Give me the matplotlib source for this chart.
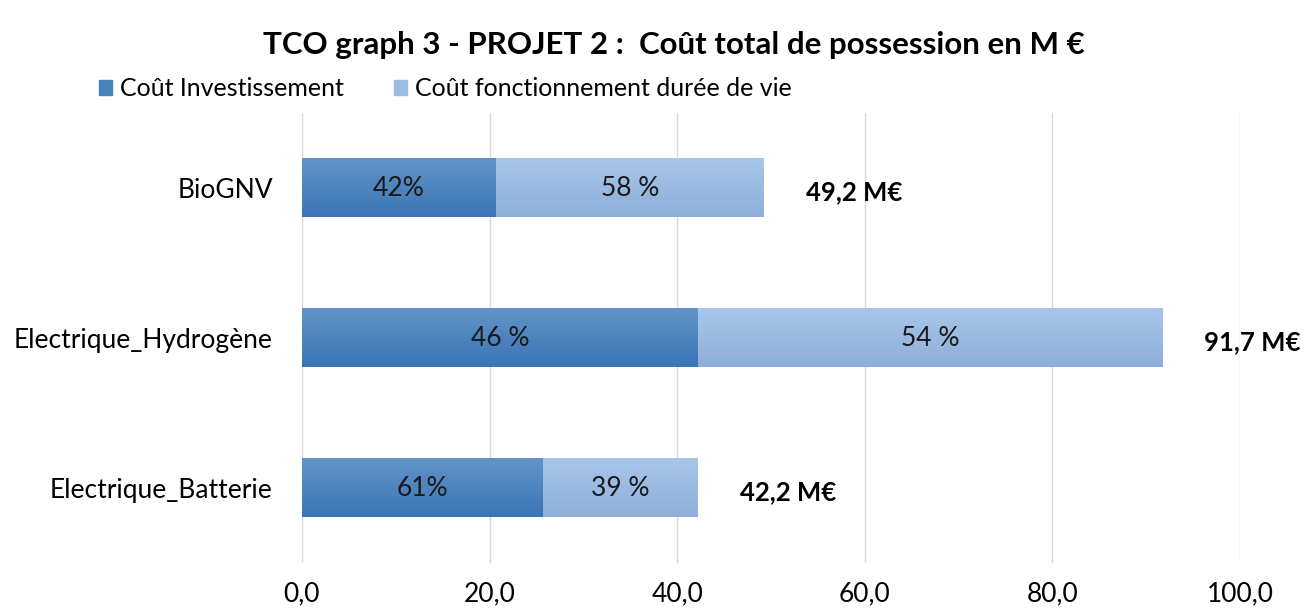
import matplotlib.pyplot as plt
import numpy as np
from matplotlib.colors import LinearSegmentedColormap

# données
categories = ['Electrique_Batterie', 'Electrique_Hydrogène', 'BioGNV']
invest = [25.7, 42.2, 20.7]
fonct = [16.5, 49.5, 28.5]
pct_invest = ['61%', '46 %', '42%']
pct_fonct = ['39 %', '54 %', '58 %']
totaux = ['42,2 M€', '91,7 M€', '49,2 M€']
ticks = [0, 20, 40, 60, 80, 100]

plt.rcParams['font.family'] = ['Lato', 'DejaVu Sans']

fig = plt.figure(figsize=(13.14, 6.11), dpi=100)
ax = fig.add_axes([302 / 1314, 1 - 563 / 611, 938 / 1314, 450 / 611])

y = np.arange(len(categories))
b1 = ax.barh(y, invest, height=0.39, color='#4a82c0', label='Coût Investissement', zorder=2)
b2 = ax.barh(y, fonct, left=invest, height=0.39, color='#9dbde4',
             label='Coût fonctionnement durée de vie', zorder=2)

# léger dégradé vertical façon Excel
cm1 = LinearSegmentedColormap.from_list('c1', ['#3a76b6', '#6393c8'])
cm2 = LinearSegmentedColormap.from_list('c2', ['#8dafd9', '#a9c6ea'])
grad = np.linspace(0, 1, 50).reshape(-1, 1)
for bars, cm in ((b1, cm1), (b2, cm2)):
    for p in bars:
        x0, y0, w, h = p.get_x(), p.get_y(), p.get_width(), p.get_height()
        ax.imshow(grad, extent=(x0, x0 + w, y0, y0 + h), origin='lower', cmap=cm,
                  aspect='auto', zorder=2.5, interpolation='bilinear')
        p.set_alpha(0)

for i in range(len(categories)):
    ax.text(invest[i] / 2, i, pct_invest[i], ha='center', va='center', fontsize=19, color='#1a1a1a', zorder=3)
    ax.text(invest[i] + fonct[i] / 2, i, pct_fonct[i], ha='center', va='center', fontsize=19, color='#1a1a1a', zorder=3)
    ax.text(invest[i] + fonct[i] + 4.5, i - 0.03, totaux[i], ha='left', va='center', fontsize=18.5,
            fontweight='bold', color='black', zorder=3)

ax.set_xlim(0, 100)
ax.set_ylim(-0.5, 2.5)
ax.set_xticks(ticks)
ax.set_xticklabels([f'{t:.1f}'.replace('.', ',') for t in ticks], fontsize=19)
ax.set_yticks(y)
ax.set_yticklabels(categories, fontsize=19)
ax.tick_params(length=0, pad=21, axis='y')
ax.tick_params(axis='x', length=0, pad=13)
ax.grid(axis='x', color='#d9d9d9', linewidth=1, zorder=0)
for s in ax.spines.values():
    s.set_visible(False)

fig.text(0.513, 0.926, 'TCO graph 3 - PROJET 2 :  Coût total de possession en M €',
         ha='center', va='center', fontsize=22.5, fontweight='bold')
fig.legend(handles=[b1, b2], loc='center left', bbox_to_anchor=(0.075, 0.855), ncol=2,
           frameon=False, fontsize=18, handlelength=0.55, handleheight=0.55,
           handletextpad=0.3, columnspacing=2.0, borderaxespad=0, borderpad=0)
for h, c in zip(fig.legends[0].legend_handles, ['#4a82c0', '#9dbde4']):
    h.set_alpha(1)
    h.set_color(c)

fig.savefig('out.png', dpi=100)
